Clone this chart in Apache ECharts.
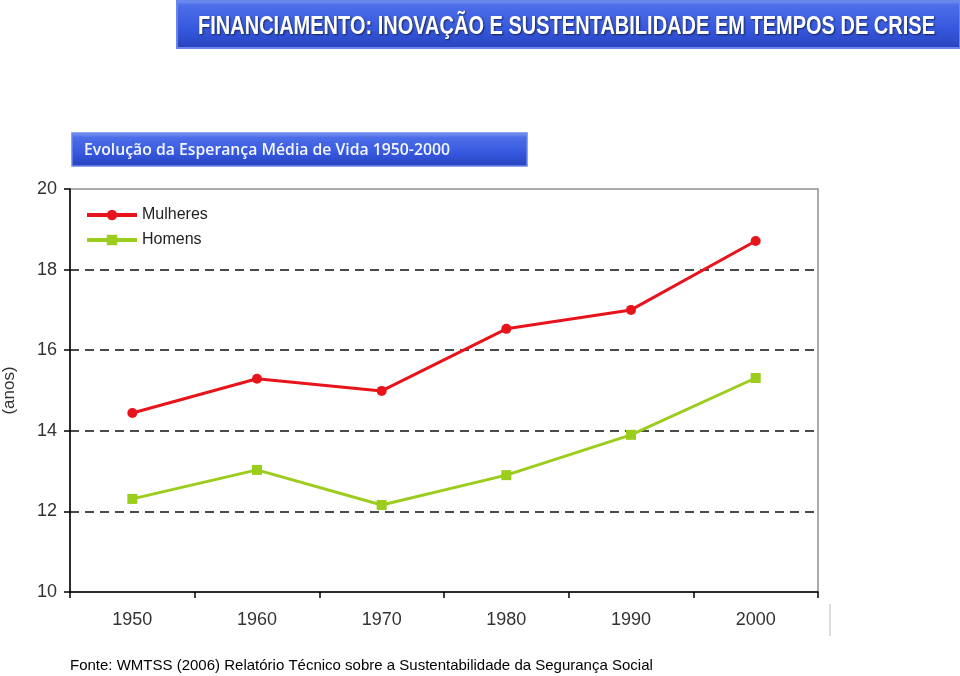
<!DOCTYPE html>
<html>
<head>
<meta charset="utf-8">
<script src="https://cdn.jsdelivr.net/npm/echarts@6/dist/echarts.min.js"></script>
<style>
html,body{margin:0;padding:0;background:#fff;}
#chart{width:960px;height:676px;}
</style>
</head>
<body>
<div id="chart"></div>
<script>
const years = ['1950', '1960', '1970', '1980', '1990', '2000'];
const mulheres = [14.44, 15.29, 14.99, 16.53, 17.0, 18.71];
const homens = [12.31, 13.03, 12.16, 12.9, 13.9, 15.31];
const yTicks = { min: 10, max: 20, interval: 2 };
const titleText = 'FINANCIAMENTO: INOVAÇÃO E SUSTENTABILIDADE EM TEMPOS DE CRISE';
const subtitleText = 'Evolução da Esperança Média de Vida 1950-2000';
const footerText = 'Fonte: WMTSS (2006) Relatório Técnico sobre a Sustentabilidade da Segurança Social';

const chart = echarts.init(document.getElementById('chart'), null, { renderer: 'canvas' });

const titleFont = 'bold 25px "Liberation Sans", Arial, sans-serif';
const mctx = document.createElement('canvas').getContext('2d');
mctx.font = titleFont;
const titleW = mctx.measureText(titleText).width;
const titleScale = 737 / titleW;

const subFont = '600 16px "Open Sans", "Liberation Sans", sans-serif';
mctx.font = subFont;
const subScale = 366 / mctx.measureText(subtitleText).width;

const barGrad = new echarts.graphic.LinearGradient(0, 0, 0, 1, [
  { offset: 0, color: '#86a0f4' },
  { offset: 0.12, color: '#4d6ee8' },
  { offset: 0.6, color: '#3658de' },
  { offset: 1, color: '#2742bc' }
]);
const barGrad2 = new echarts.graphic.LinearGradient(0, 0, 0, 1, [
  { offset: 0, color: '#86a0f4' },
  { offset: 0.15, color: '#4d6ee8' },
  { offset: 0.6, color: '#3658de' },
  { offset: 1, color: '#2742bc' }
]);

const option = {
  animation: false,
  backgroundColor: '#ffffff',
  textStyle: { fontFamily: '"Liberation Sans", Arial, sans-serif' },
  graphic: [
    { type: 'rect', shape: { x: 177, y: 0, width: 783, height: 48 }, style: { fill: barGrad, stroke: '#6b86ea', lineWidth: 2 }, z: 1 },
    { type: 'text', x: 198, y: 15, scaleX: titleScale, style: { text: titleText, fill: '#ffffff', font: titleFont, textShadowColor: 'rgba(0,0,0,0.6)', textShadowBlur: 2, textShadowOffsetX: 1, textShadowOffsetY: 1 }, z: 2 },
    { type: 'rect', shape: { x: 72, y: 133, width: 455, height: 33 }, style: { fill: barGrad2, stroke: '#6b86ea', lineWidth: 1.5 }, z: 1 },
    { type: 'text', x: 84, y: 142, scaleX: subScale, style: { text: subtitleText, fill: '#f4f6ff', font: subFont }, z: 2 },
    { type: 'text', left: 70, top: 658, style: { text: footerText, fill: '#000000', font: '15px "Liberation Sans", Arial, sans-serif' }, z: 2 },
    { type: 'line', shape: { x1: 830, y1: 604, x2: 830, y2: 636 }, style: { stroke: '#bbbbbb', lineWidth: 1 }, z: 2 }
  ],
  grid: {
    left: 70, right: 142, top: 189, bottom: 84,
    outerBoundsMode: 'none',
    containLabel: false,
    show: true, borderColor: '#909090', borderWidth: 1.5, backgroundColor: 'transparent'
  },
  legend: {
    left: 80, top: 202, orient: 'vertical', itemGap: 9,
    itemWidth: 50, itemHeight: 13,
    lineStyle: { width: 4 },
    textStyle: { fontSize: 16, color: '#222', fontFamily: '"Liberation Sans", Arial, sans-serif' },
    data: ['Mulheres', 'Homens']
  },
  xAxis: {
    type: 'category',
    data: years,
    boundaryGap: true,
    axisLine: { lineStyle: { color: '#000', width: 1.5 } },
    axisTick: { show: true, length: 6, lineStyle: { color: '#000', width: 1.5 } },
    axisLabel: { fontSize: 18, color: '#333', margin: 19, fontFamily: '"Liberation Sans", Arial, sans-serif' },
    splitLine: { show: false }
  },
  yAxis: {
    type: 'value',
    min: yTicks.min, max: yTicks.max, interval: yTicks.interval,
    name: '(anos)', nameLocation: 'middle', nameGap: 52, nameRotate: 90,
    nameTextStyle: { fontSize: 17, color: '#333', fontFamily: '"Liberation Sans", Arial, sans-serif' },
    axisLine: { show: true, lineStyle: { color: '#000', width: 1.5 } },
    axisTick: { show: true, length: 6, lineStyle: { color: '#000', width: 1.5 } },
    axisLabel: { fontSize: 18, color: '#333', margin: 13, fontFamily: '"Liberation Sans", Arial, sans-serif' },
    splitLine: { show: true, lineStyle: { color: ['rgba(0,0,0,0)', '#111', '#111', '#111', '#111', 'rgba(0,0,0,0)'], type: [9, 6], width: 1.5 } }
  },
  series: [
    {
      name: 'Mulheres', type: 'line', data: mulheres,
      symbol: 'circle', symbolSize: 10,
      itemStyle: { color: '#e8141c' },
      lineStyle: { color: '#e8141c', width: 3 }
    },
    {
      name: 'Homens', type: 'line', data: homens,
      symbol: 'rect', symbolSize: 10,
      itemStyle: { color: '#9acd1c' },
      lineStyle: { color: '#9acd1c', width: 3 }
    }
  ]
};
chart.setOption(option);
</script>
</body>
</html>
